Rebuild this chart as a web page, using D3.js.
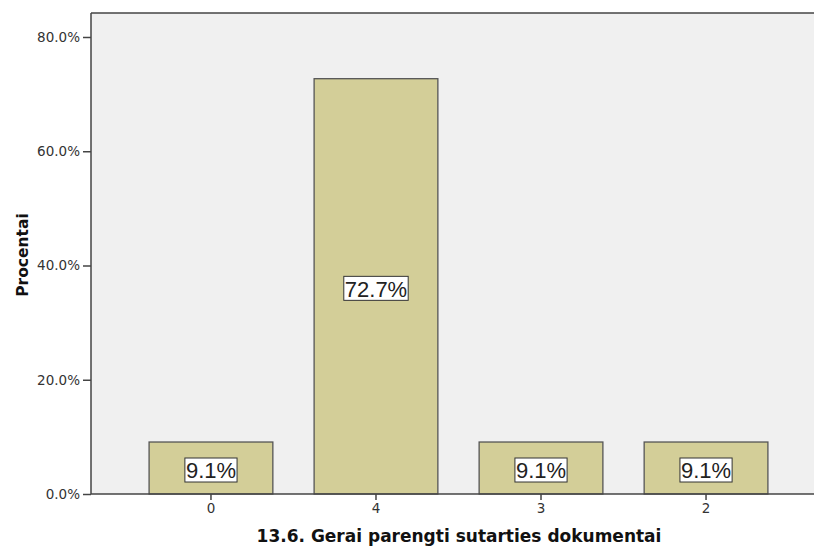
<!DOCTYPE html>
<html>
<head>
<meta charset="utf-8">
<script src="https://cdn.jsdelivr.net/npm/d3@7"></script>
<style>
  body { margin: 0; background: #fff; }
  text { font-family: "DejaVu Sans", sans-serif; }
</style>
</head>
<body>
<div id="chart"></div>
<script>
var categories = ["0", "4", "3", "2"];
var values = [9.1, 72.7, 9.1, 9.1];
var yTicks = [0, 20, 40, 60, 80];

var W = 814, H = 546;
var plot = { left: 91, right: 826, top: 13, bottom: 494 };

var svg = d3.select("#chart")
  .append("svg")
  .attr("width", W)
  .attr("height", H);

var x = d3.scaleBand()
  .domain(categories)
  .range([plot.left, plot.right])
  .paddingInner(0.25)
  .paddingOuter(0.352);

var y = d3.scaleLinear()
  .domain([0, 84.2])
  .range([plot.bottom, plot.top]);

// plot background
svg.append("rect")
  .attr("x", plot.left)
  .attr("y", plot.top)
  .attr("width", plot.right - plot.left)
  .attr("height", plot.bottom - plot.top)
  .attr("fill", "#f0f0f0");

// top frame line
svg.append("line")
  .attr("x1", plot.left).attr("x2", plot.right)
  .attr("y1", plot.top).attr("y2", plot.top)
  .attr("stroke", "#444").attr("stroke-width", 1.5);

// bars
svg.selectAll(".bar")
  .data(values)
  .enter()
  .append("rect")
  .attr("class", "bar")
  .attr("x", (d, i) => x(categories[i]))
  .attr("y", d => y(d))
  .attr("width", x.bandwidth())
  .attr("height", d => y(0) - y(d))
  .attr("fill", "#d3ce98")
  .attr("stroke", "#555")
  .attr("stroke-width", 1.3);

// value labels with boxes
var lbl = svg.selectAll(".lbl")
  .data(values)
  .enter()
  .append("g")
  .attr("class", "lbl")
  .attr("transform", (d, i) => "translate(" + (x(categories[i]) + x.bandwidth() / 2) + "," + (y(d / 2) + 2) + ")");

lbl.each(function (d) {
  var g = d3.select(this);
  var t = g.append("text")
    .attr("text-anchor", "middle")
    .attr("y", 8.3)
    .style("font-size", "22px")
    .style("font-family", "'Liberation Sans', Arial, sans-serif")
    .attr("fill", "#222")
    .text(d.toFixed(1) + "%");
  var len = t.node().getComputedTextLength();
  g.insert("rect", "text")
    .attr("x", -len / 2 - 1)
    .attr("y", -12)
    .attr("width", len + 2)
    .attr("height", 24)
    .attr("fill", "#fff")
    .attr("stroke", "#333")
    .attr("stroke-width", 1);
});

// y axis
var yAxis = svg.append("g")
  .attr("transform", "translate(" + plot.left + ",0)")
  .call(d3.axisLeft(y).tickValues(yTicks).tickSize(8).tickPadding(3)
    .tickFormat(d => d.toFixed(1) + "%"));
yAxis.select(".domain").attr("stroke", "#444").attr("stroke-width", 1.5)
  .attr("d", "M0," + plot.top + "V" + plot.bottom);
yAxis.selectAll(".tick line").attr("stroke", "#444").attr("stroke-width", 1.5);
yAxis.selectAll(".tick text").attr("font-size", 13.5).attr("fill", "#333");

// x axis
var xAxis = svg.append("g")
  .attr("transform", "translate(0," + plot.bottom + ")")
  .call(d3.axisBottom(x).tickSize(6).tickPadding(3));
xAxis.select(".domain").attr("stroke", "#444").attr("stroke-width", 1.5)
  .attr("d", "M" + plot.left + ",0H" + plot.right);
xAxis.selectAll(".tick line").attr("stroke", "#444").attr("stroke-width", 1.5);
xAxis.selectAll(".tick text").attr("font-size", 13.5).attr("fill", "#333");

// axis titles
svg.append("text")
  .attr("transform", "translate(28,255) rotate(-90)")
  .attr("text-anchor", "middle")
  .attr("font-size", 15.5)
  .attr("font-weight", "bold")
  .attr("fill", "#111")
  .text("Procentai");

svg.append("text")
  .attr("x", 459)
  .attr("y", 542)
  .attr("text-anchor", "middle")
  .attr("font-size", 17)
  .attr("font-weight", "bold")
  .attr("fill", "#111")
  .text("13.6. Gerai parengti sutarties dokumentai");
</script>
</body>
</html>
